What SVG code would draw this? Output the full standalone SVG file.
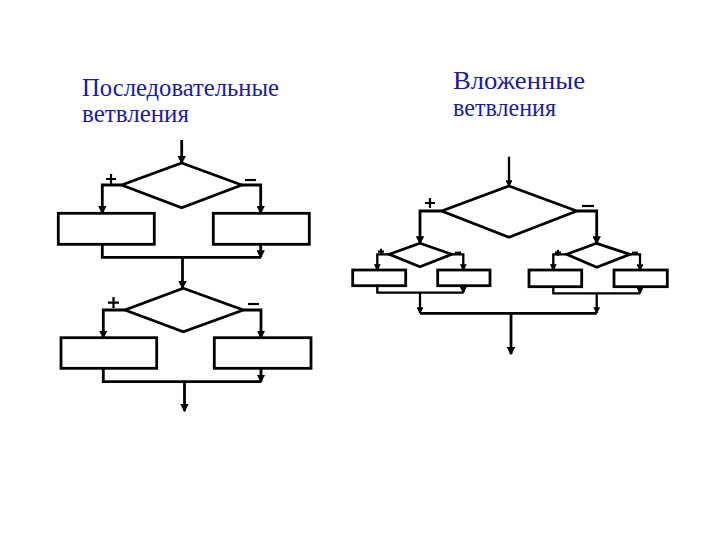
<svg xmlns="http://www.w3.org/2000/svg" width="720" height="540" viewBox="0 0 720 540">
<style>
.t{font-family:"Liberation Serif","Times New Roman",serif;font-size:24.5px;fill:#1c1c9c}
.s{fill:#fff;stroke:#000;stroke-width:2.8}
.c{fill:none;stroke:#000;stroke-width:2.8;stroke-linejoin:miter}
.c2{fill:none;stroke:#000;stroke-width:2.3}
.pm{fill:none;stroke:#000;stroke-width:2.2}
</style>
<defs>
<marker id="a" viewBox="0 0 6 6" refX="5" refY="3" markerWidth="3" markerHeight="3" orient="auto" markerUnits="strokeWidth">
<path d="M0,0L6,3L0,6z" fill="#000"/>
</marker>
</defs>
<rect width="720" height="540" fill="#fff"/>
<g id="titles">
<text class="t" x="82" y="96" textLength="197" lengthAdjust="spacingAndGlyphs">Последовательные</text>
<text class="t" x="82" y="122" textLength="107" lengthAdjust="spacingAndGlyphs">ветвления</text>
<text class="t" x="453" y="89" textLength="132" lengthAdjust="spacingAndGlyphs">Вложенные</text>
<text class="t" x="453" y="116" textLength="103" lengthAdjust="spacingAndGlyphs">ветвления</text>
</g>
<g id="connectors">
<!-- left diagram -->
<path class="c" d="M181.7,140V163" marker-end="url(#a)"/>
<path class="c" d="M121.7,185H102.3V213" marker-end="url(#a)"/>
<path class="c" d="M241.7,185H260.7V213" marker-end="url(#a)"/>
<path class="c" d="M102.3,244.3V257.3H260.7"/>
<path class="c" d="M260.7,244.3V257.3" marker-end="url(#a)"/>
<path class="c" d="M182.5,257.3V288" marker-end="url(#a)"/>
<path class="c" d="M125,310H103.3V337.5" marker-end="url(#a)"/>
<path class="c" d="M243.3,310H261V337.5" marker-end="url(#a)"/>
<path class="c" d="M103.3,368.3V381.7H261"/>
<path class="c" d="M261,368.3V381.7" marker-end="url(#a)"/>
<path class="c" d="M184.5,381.7V411" marker-end="url(#a)"/>
<!-- right diagram -->
<path class="c2" d="M509,156.7V186" marker-end="url(#a)"/>
<path class="c" d="M441.7,211H420V243.3" marker-end="url(#a)"/>
<path class="c" d="M576.7,211H596.7V243.3" marker-end="url(#a)"/>
<path class="c2" d="M389.3,254.3H377.3V270" marker-end="url(#a)"/>
<path class="c2" d="M451.7,254.3H463.3V270" marker-end="url(#a)"/>
<path class="c2" d="M377.3,285.7V292.7H463.3"/>
<path class="c2" d="M463.3,285.7V292.7" marker-end="url(#a)"/>
<path class="c2" d="M420,292.7V313" marker-end="url(#a)"/>
<path class="c2" d="M566.7,254.3H553.3V270" marker-end="url(#a)"/>
<path class="c2" d="M630,254.3H640V270" marker-end="url(#a)"/>
<path class="c2" d="M553.3,286.7V293.3H640"/>
<path class="c2" d="M640,286.7V293.3" marker-end="url(#a)"/>
<path class="c2" d="M596.7,293.3V313" marker-end="url(#a)"/>
<path class="c" d="M420,313.3H596.7"/>
<path class="c" d="M511,313.3V354" marker-end="url(#a)"/>
</g>
<g id="signs">
<path class="pm" d="M106,179H116M111,174V184"/>
<path class="pm" d="M245,180H256"/>
<path class="pm" d="M108,302.7H119M113.5,297V308"/>
<path class="pm" d="M248,304H259"/>
<path class="pm" d="M425,203H435M430,198V208"/>
<path class="pm" d="M582,206H594"/>
<path class="pm" d="M378,251.7H384M381,248.7V254.7"/>
<path class="pm" d="M455,252.7H461"/>
<path class="pm" d="M555,252.7H561M558,249.7V255.7"/>
<path class="pm" d="M632,252.7H638"/>
</g>
<g id="d1"><path class="s" d="M181.7,163L241.7,185L181.7,207.7L121.7,185Z"/></g>
<g id="b1"><rect class="s" x="58.3" y="213.3" width="96" height="31"/></g>
<g id="b2"><rect class="s" x="213.3" y="213.3" width="96" height="31"/></g>
<g id="d2"><path class="s" d="M183.3,288.3L243.3,310L183.3,331.7L125,310Z"/></g>
<g id="b3"><rect class="s" x="61" y="337.7" width="95.7" height="30.6"/></g>
<g id="b4"><rect class="s" x="214.3" y="337.7" width="96.7" height="30.6"/></g>
<g id="d3"><path class="s" d="M509,186L576.7,211L509,237.3L441.7,211Z"/></g>
<g id="d4"><path class="s" d="M420,243.3L451.7,254.3L420,266.7L389.3,254.3Z"/></g>
<g id="b5"><rect class="s" x="352.7" y="270" width="53" height="15.7"/></g>
<g id="b6"><rect class="s" x="437.7" y="270" width="52.3" height="15.7"/></g>
<g id="d5"><path class="s" d="M596.7,243.3L630,254.3L596.7,267.3L566.7,254.3Z"/></g>
<g id="b7"><rect class="s" x="529" y="270" width="52.7" height="16.7"/></g>
<g id="b8"><rect class="s" x="614" y="270" width="53.3" height="16.7"/></g>
</svg>
